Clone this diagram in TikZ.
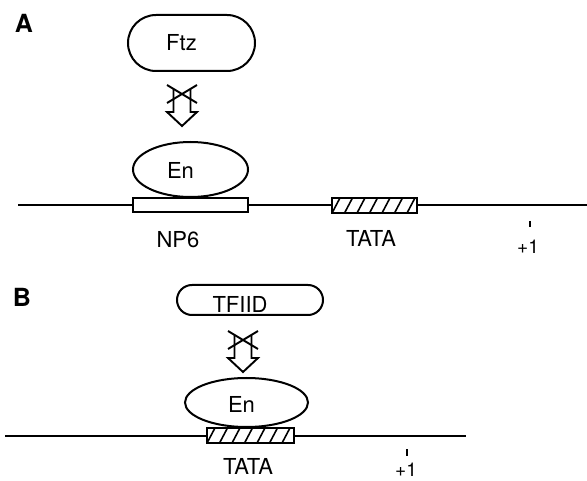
\documentclass[tikz,border=0pt]{standalone}
\usepackage{fontspec}
\setmainfont{TeX Gyre Heros}
\usetikzlibrary{shapes.geometric}

\tikzset{
  lbl/.style={font=\fontsize{22}{26}\selectfont, inner sep=0pt},
  panel/.style={font=\fontsize{25}{30}\selectfont\bfseries, inner sep=0pt},
  prot/.style={draw, line width=2pt, rectangle, inner sep=0pt},
  blob/.style={draw, line width=2pt, ellipse, inner sep=0pt, fill=white},
  site/.style={draw, line width=2pt, rectangle, inner sep=0pt, fill=white,
               minimum height=14.5pt},
  hatched/.style={site, path picture={
      \foreach \k in {-2,...,8}
        \draw[line width=1.6pt]
          ([xshift=\k*12.5pt-1pt, yshift=-2pt]path picture bounding box.south west)
          -- ++(10pt,19pt);}},
  dna/.style={line width=2pt},
  tick/.style={line width=1.8pt},
  nogo/.pic={
    % hollow arrow, crossed out
    \draw[line width=1.9pt] (-8.5,2) -- (-8.5,25) -- (-15,25) -- (0,39)
          -- (15,25) -- (8.5,25) -- (8.5,2);
    \draw[line width=1.9pt] (-15,-2) -- (15,16) (15,-2) -- (-15,16);
  }
}

\begin{document}
\begin{tikzpicture}[x=1pt,y=-1pt]
\useasboundingbox (0,0) rectangle (587,481);

% ---------- panel A ----------
\node[panel] (pa) at (24,23) {A};

\node[prot, rounded corners=28pt, minimum width=127pt, minimum height=56pt,
      label={[lbl, xshift=-10pt]center:Ftz}] (ftz) at (191.5,43) {};
\pic at (182,87) {nogo};

\node[site, minimum width=115pt] (np6) at (190.5,205) {};
\node[hatched, minimum width=85pt, minimum height=15pt] (tataA) at (374.5,205.5) {};
\node[blob, minimum width=115pt, minimum height=55pt,
      label={[lbl, xshift=-10pt, yshift=-0.5pt]center:En}] (enA) at (190.5,169.5) {};

\coordinate (dnaAl) at (18,205);
\coordinate (dnaAr) at (587,205);
\draw[dna] (dnaAl) -- (np6.west);
\draw[dna] (np6.east) -- (tataA.west |- np6.east);
\draw[dna] (tataA.east |- np6.east) -- (dnaAr);

\node[lbl] (np6l) at (178,240) {NP6};
\node[lbl] (tataAl) at (371,238) {TATA};
\coordinate (tkA1) at (530,221);
\coordinate (tkA2) at (530,227.5);
\draw[tick] (tkA1) -- (tkA2);
\node[lbl, font=\fontsize{19}{22}\selectfont] (p1A) at (528,247) {+1};

% ---------- panel B ----------
\node[panel] (pb) at (22,297) {B};

\node[prot, rounded corners=15pt, minimum width=146pt, minimum height=30pt,
      label={[lbl, xshift=-10pt, yshift=-4pt]center:TFIID}] (tfiid) at (250,300) {};
\pic at (243,333) {nogo};

\node[hatched, minimum width=87pt, minimum height=15pt] (tataB) at (250.5,435.5) {};
\node[blob, minimum width=123pt, minimum height=49pt,
      label={[lbl, xshift=-5pt, yshift=-2pt]center:En}] (enB) at (246.5,402.5) {};

\coordinate (dnaBl) at (5,436);
\coordinate (dnaBr) at (466,436);
\draw[dna] (dnaBl) -- (tataB.west |- dnaBl);
\draw[dna] (tataB.east |- dnaBl) -- (dnaBr);

\node[lbl] (tataBl) at (248,466) {TATA};
\coordinate (tkB1) at (407,449);
\coordinate (tkB2) at (407,456);
\draw[tick] (tkB1) -- (tkB2);
\node[lbl, font=\fontsize{19}{22}\selectfont] (p1B) at (406,469.5) {+1};
\end{tikzpicture}
\end{document}
